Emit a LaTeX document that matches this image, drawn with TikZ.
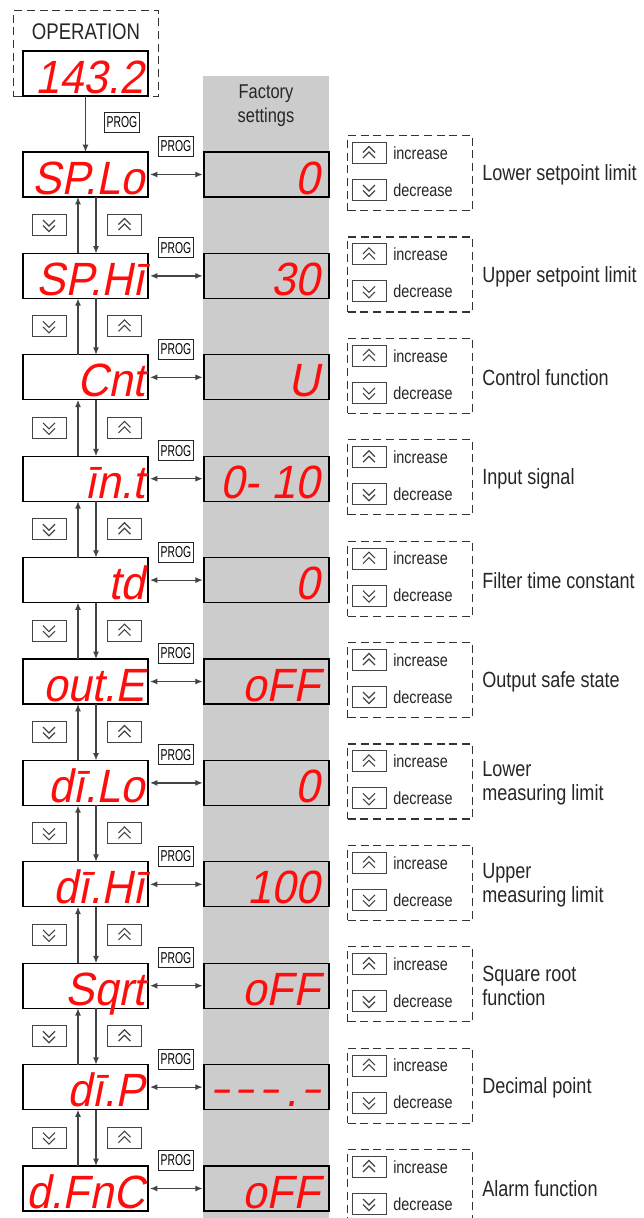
\documentclass[tikz,border=0pt]{standalone}
\usepackage{fontspec}
\usepackage{graphicx}
\setmainfont{Liberation Sans}
\newfontfamily\cf{Liberation Sans}[FakeStretch=0.82]
\newfontfamily\pf{Liberation Sans}[FakeStretch=0.66]
\newfontfamily\sgf{Liberation Sans}[FakeSlant=0.2,FakeStretch=0.93]
\usetikzlibrary{arrows.meta}
\definecolor{colgray}{HTML}{CCCCCC}
\definecolor{segred}{HTML}{FF0D0D}
\definecolor{ln}{HTML}{444444}
\newcommand\sgdash{\raisebox{2.5pt}{\resizebox{11.5pt}{\height}{–}}}
\newcommand\dashseq{\sgdash\hspace{7pt}\sgdash\hspace{7pt}\sgdash\hspace{6pt}.\hspace{5pt}\sgdash}
\begin{document}
\begin{tikzpicture}[x=0.75pt,y=-0.75pt,
  disp/.style={draw=black, line width=1pt, minimum width=93.75pt, minimum height=33.75pt, inner sep=0pt, outer sep=0pt, anchor=north west},
  fdisp/.style={disp, fill=colgray},
  segtxt/.style={text=segred, font=\sgf\fontsize{35}{36}\selectfont, inner sep=0pt, anchor=base east},
  prog/.style={draw=black!85, line width=0.7pt, minimum width=26.25pt, minimum height=15pt, inner sep=0pt, font=\pf\fontsize{11.8}{12}\selectfont, anchor=north west},
  keybox/.style={draw=ln, line width=0.75pt, minimum width=25.5pt, minimum height=15.75pt, inner sep=0pt},
  grp/.style={draw=black!80, dash pattern=on 6pt off 3.5pt, line width=0.9pt, minimum width=93.75pt, minimum height=56.25pt, inner sep=0pt, anchor=north west},
  keytxt/.style={font=\cf\fontsize{13.2}{14}\selectfont, anchor=west, inner sep=0pt, text=black!85},
  lbl/.style={font=\cf\fontsize{16.5}{18}\selectfont, anchor=west, align=left, inner sep=0pt, text=black!85},
  arr/.style={draw=ln, line width=0.9pt, -{Latex[length=5.5pt,width=4.5pt]}},
  darr/.style={draw=ln, line width=0.9pt, {Latex[length=5.5pt,width=4.5pt]}-{Latex[length=5.5pt,width=4.5pt]}, shorten <=1.5pt, shorten >=1pt},
  chevup/.pic={\draw[line width=0.85pt, ln] (-6,-0.5)--(0,-6.5)--(6,-0.5) (-6,5)--(0,-1)--(6,5);},
  chevdn/.pic={\draw[line width=0.85pt, ln] (-6,0.5)--(0,6.5)--(6,0.5) (-6,-5)--(0,1)--(6,-5);}
]
\useasboundingbox (0,0) rectangle (643,1218);
\clip (0,0) rectangle (643,1218);

% factory column
\fill[colgray] (203,76) rectangle (329,1218);
\node[font=\cf\fontsize{15}{18}\selectfont, align=center, text=black!85] (fs) at (266,106) {Factory\\settings};

% operation
\node[draw=black!80, dash pattern=on 6pt off 3.5pt, line width=0.9pt, minimum width=108.75pt, minimum height=64.5pt, inner sep=0pt, anchor=north west] (opg) at (13,10) {};
\node[font=\cf\fontsize{17}{18}\selectfont, text=black!85] (optxt) at (86,32) {OPERATION};
\node[disp] (op) at (23,51) {};
\node[segtxt] (opv) at (144,93) {143.2};
\node[prog] (p0) at (104,112) {PROG};

\coordinate (ux) at (78,0);
\coordinate (dx) at (96,0);

\foreach \k/\l/\r/\t in {
  0/SP.Lo/0/Lower setpoint limit,
  1/SP.Hī/30/Upper setpoint limit,
  2/Cnt/U/Control function,
  3/īn.t/0- 10/Input signal,
  4/td/0/Filter time constant,
  5/out.E/oFF/Output safe state,
  6/dī.Lo/0/Lower\\measuring limit,
  7/dī.Hī/100/Upper\\measuring limit,
  8/Sqrt/oFF/Square root\\function,
  9/dī.P/\dashseq/Decimal point,
  10/d.FnC/oFF/Alarm function}{
  \pgfmathsetmacro\T{152+101.4*\k}
  \node[disp] (d\k) at (23,\T) {};
  \node[segtxt] (dt\k) at (145,\T+42) {\l};
  \node[fdisp] (f\k) at (204,\T) {};
  \node[segtxt] (ft\k) at (320,\T+42) {\r};
  \node[prog] (pr\k) at (158,\T-16) {PROG};
  \draw[darr] (d\k.east) -- (f\k.west);
  \node[grp] (g\k) at (347,\T-17) {};
  \node[keybox, anchor=center] (gu\k) at (369,\T+1) {};
  \pic at (gu\k.center) {chevup};
  \node[keytxt] (gut\k) at (393,\T+1) {increase};
  \node[keybox, anchor=center] (gd\k) at (369,\T+38) {};
  \pic at (gd\k.center) {chevdn};
  \node[keytxt] (gdt\k) at (393,\T+38) {decrease};
  \node[lbl] (lb\k) at (482,\T+23) {\t};
}

\foreach \k in {0,...,9}{
  \pgfmathtruncatemacro\n{\k+1}
  \pgfmathsetmacro\T{152+101.4*\k}
  \draw[arr] (d\n.north -| ux) -- (d\k.south -| ux);
  \draw[arr] (d\k.south -| dx) -- (d\n.north -| dx);
  \node[keybox] (kd\k) at (49,\T+73) {};
  \pic at (kd\k.center) {chevdn};
  \node[keybox] (ku\k) at (124.5,\T+73) {};
  \pic at (ku\k.center) {chevup};
}

\draw[arr] (op.south) -- (d0.north);
\end{tikzpicture}
\end{document}
